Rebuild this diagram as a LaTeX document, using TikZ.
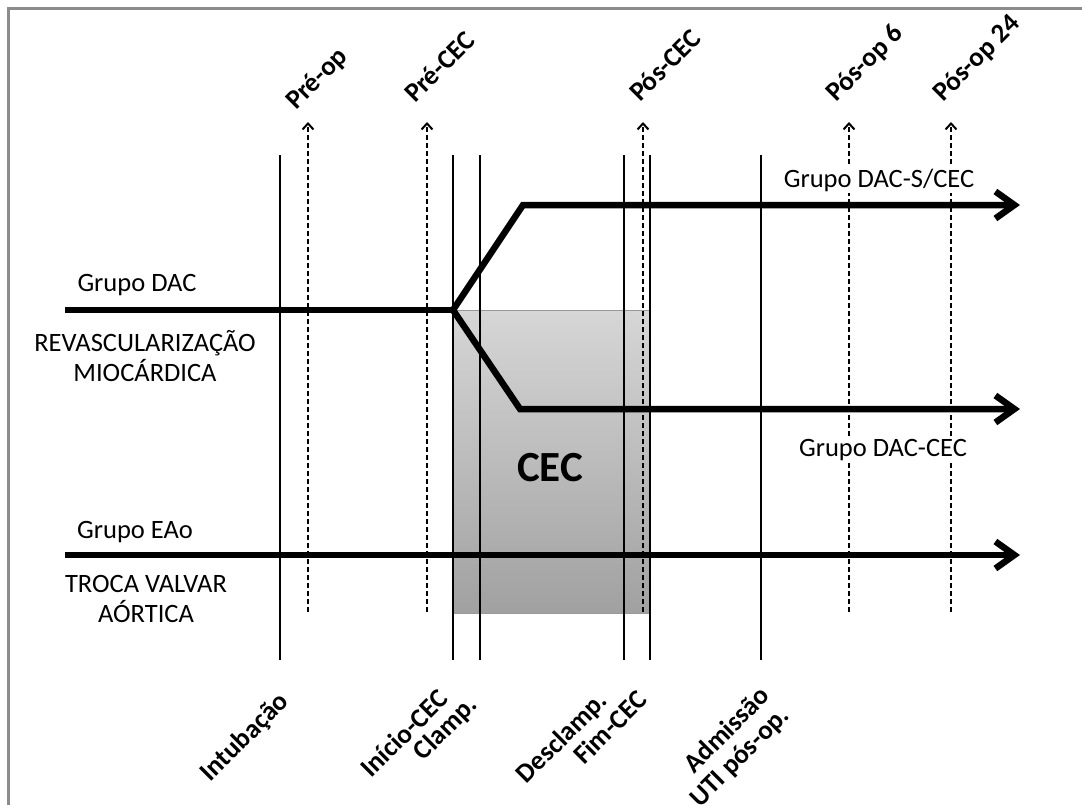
\documentclass[tikz,border=0pt]{standalone}
\usepackage{fontspec}
\setmainfont{Carlito}
\usetikzlibrary{arrows.meta,positioning}

\begin{document}
\begin{tikzpicture}[x=1pt,y=-1pt,
  event/.style={line width=2.3pt},
  sample/.style={line width=2pt,dash pattern=on 5pt off 3pt,
                 -{Straight Barb[length=6pt,width=11pt]}},
  grp/.style={line width=6.5pt,-{Straight Barb[length=19pt,width=27pt]}},
  lbl/.style={font=\fontsize{26.5}{30}\selectfont,align=center,inner sep=2pt},
  toplbl/.style={font=\fontsize{27}{29}\selectfont\bfseries,rotate=45,
                 anchor=base west,inner sep=0pt},
  botlbl/.style={font=\fontsize{27}{28}\selectfont\bfseries,rotate=45,
                 anchor=east,inner sep=0pt,align=right}
]
\useasboundingbox (0,0) rectangle (1082,804);
% frame
\draw[black!45,line width=3pt] (8,8) rectangle (1200,900);

% CEC block
\node[draw=black!40,line width=0.6pt,top color=black!16,bottom color=black!37,
      minimum width=197pt,minimum height=303pt,anchor=north west,inner sep=0pt]
  (cecbox) at (453,310) {};
\node[font=\fontsize{43}{43}\selectfont\bfseries] (cec) at (550,468) {CEC};

% events
\foreach \n/\x in {intub/280,inicio/453,clamp/480,desclamp/624,fim/650,uti/761}{
  \coordinate (\n-t) at (\x,155);
  \coordinate (\n-b) at (\x,660);
  \draw[event] (\n-t) -- (\n-b);
}
% samples
\foreach \n/\x in {preop/308,precec/427,poscec/643,pos6/849,pos24/951}{
  \coordinate (\n-b) at (\x,612);
  \coordinate (\n-t) at (\x,122);
  \draw[sample] (\n-b) -- (\n-t);
}

% groups
\coordinate (dac) at (65,310);
\coordinate (split) at (453,310);
\coordinate (up) at (523,205);
\coordinate (down) at (520,409);
\coordinate (scec-end) at (1020,205);
\coordinate (cec-end) at (1020,409);
\coordinate (eao) at (65,555);
\coordinate (eao-end) at (1020,555);
\draw[line width=6.5pt] (dac) -- (split);
\draw[grp] (split) -- (up) -- (scec-end);
\draw[grp] (split) -- (down) -- (cec-end);
\draw[grp] (eao) -- (eao-end);

\node[lbl] (dac-lbl) at (137,285) {Grupo DAC};
\node[lbl] (rm-lbl) at (145,356) {REVASCULARIZAÇÃO\\MIOCÁRDICA};
\node[lbl] (eao-lbl) at (135,532) {Grupo EAo};
\node[lbl] (tva-lbl) at (146,599) {TROCA VALVAR\\AÓRTICA};
\node[lbl,fill=white] (scec-lbl) at (879,180) {Grupo DAC-S/CEC};
\node[lbl,fill=white] (cec-lbl) at (883,450) {Grupo DAC-CEC};

% sample labels
\node[toplbl] (preop-lbl) at (296,111) {Pré-op};
\node[toplbl] (precec-lbl) at (415,104) {Pré-CEC};
\node[toplbl] (poscec-lbl) at (640,103) {Pós-CEC};
\node[toplbl] (pos6-lbl) at (836,103) {Pós-op 6};
\node[toplbl] (pos24-lbl) at (943,103) {Pós-op 24};

% event labels
\node[botlbl] (intub-lbl) at (285,698) {Intubação};
\node[botlbl] (inicio-lbl) at (443,694) {Início-CEC};
\node[botlbl] (clamp-lbl) at (474,701) {Clamp.};
\node[botlbl] (desclamp-lbl) at (604,697) {Desclamp.};
\node[botlbl] (fim-lbl) at (642,695) {Fim-CEC};
\node[botlbl] (uti-lbl) at (776,702) {Admissão\\UTI pós-op.};
\end{tikzpicture}
\end{document}
